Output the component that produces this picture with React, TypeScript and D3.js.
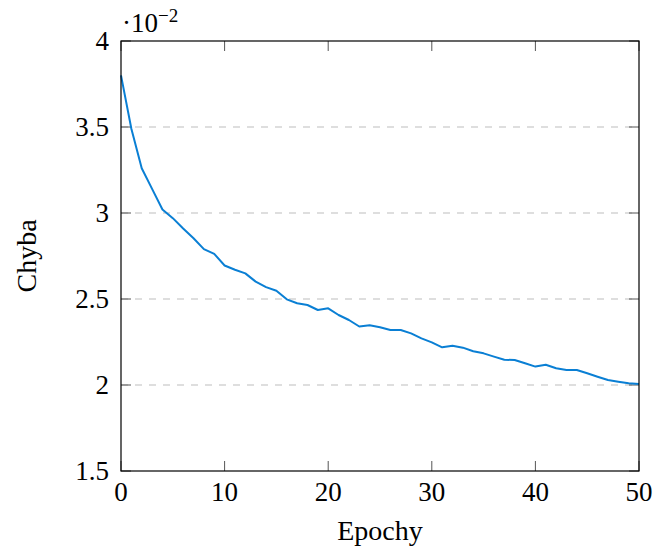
import React from "react";
import * as d3 from "d3";

const epochs: number[] = Array.from({ length: 51 }, (_, i) => i);
const errorValues: number[] = [
  3.80, 3.49, 3.26, 3.14, 3.02, 2.97, 2.91, 2.853, 2.79, 2.762,
  2.695, 2.67, 2.649, 2.601, 2.569, 2.548, 2.498, 2.475, 2.465, 2.436,
  2.446, 2.407, 2.378, 2.34, 2.347, 2.336, 2.32, 2.32, 2.30, 2.271,
  2.248, 2.219, 2.228, 2.217, 2.196, 2.184, 2.165, 2.147, 2.145, 2.126,
  2.107, 2.118, 2.097, 2.087, 2.087, 2.068, 2.048, 2.029, 2.019, 2.01,
  2.006,
];
const xTicks: number[] = [0, 10, 20, 30, 40, 50];
const yTicks: number[] = [1.5, 2, 2.5, 3, 3.5, 4];
const yTickLabels: string[] = ["1.5", "2", "2.5", "3", "3.5", "4"];
const gridValues: number[] = [2, 2.5, 3, 3.5];

const W = 656;
const H = 552;
const left = 121;
const right = 639;
const top = 41;
const bottom = 471;
const FONT = "'Liberation Serif', 'DejaVu Serif', serif";

export default function App() {
  const x = d3.scaleLinear().domain([0, 50]).range([left, right]);
  const y = d3.scaleLinear().domain([1.5, 4]).range([bottom, top]);
  const line = d3
    .line<number>()
    .x((_, i) => x(epochs[i]))
    .y((d) => y(d));
  const tickLen = 10;
  return (
    <svg
      width={W}
      height={H}
      style={{ position: "absolute", left: 0, top: 0, background: "#fff" }}
      fontFamily={FONT}
    >
      <rect x={0} y={0} width={W} height={H} fill="#fff" />
      {gridValues.map((g) => (
        <line
          key={"g" + g}
          x1={left}
          x2={right}
          y1={y(g)}
          y2={y(g)}
          stroke="#bdbdbd"
          strokeWidth={1}
          strokeDasharray="7,7"
        />
      ))}
      {xTicks.map((t) => (
        <g key={"xt" + t}>
          <line x1={x(t)} x2={x(t)} y1={bottom} y2={bottom - tickLen} stroke="#555" strokeWidth={1} />
          <line x1={x(t)} x2={x(t)} y1={top} y2={top + tickLen} stroke="#555" strokeWidth={1} />
          <text x={x(t)} y={501} textAnchor="middle" fontSize={27} fill="#000">
            {t}
          </text>
        </g>
      ))}
      {yTicks.map((t, i) => (
        <g key={"yt" + t}>
          <line x1={left} x2={left + tickLen} y1={y(t)} y2={y(t)} stroke="#555" strokeWidth={1} />
          <line x1={right} x2={right - tickLen} y1={y(t)} y2={y(t)} stroke="#555" strokeWidth={1} />
          <text x={109} y={y(t) + 9} textAnchor="end" fontSize={27} fill="#000">
            {yTickLabels[i]}
          </text>
        </g>
      ))}
      <path
        d={line(errorValues) || ""}
        fill="none"
        stroke="#0a7fd4"
        strokeWidth={2}
        strokeLinejoin="round"
      />
      <rect
        x={left}
        y={top}
        width={right - left}
        height={bottom - top}
        fill="none"
        stroke="#000"
        strokeWidth={1.2}
      />
      <text x={122} y={32} fontSize={27} fill="#000">
        ·10
        <tspan dy={-10} fontSize={19}>
          −2
        </tspan>
      </text>
      <text x={(left + right) / 2} y={540} textAnchor="middle" fontSize={28} fill="#000">
        Epochy
      </text>
      <text
        transform={`translate(36, ${(top + bottom) / 2}) rotate(-90)`}
        textAnchor="middle"
        fontSize={28}
        fill="#000"
      >
        Chyba
      </text>
    </svg>
  );
}
